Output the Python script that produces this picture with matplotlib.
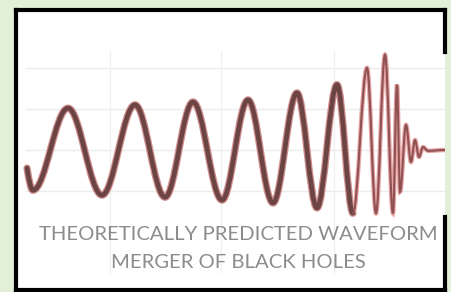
import matplotlib
matplotlib.use("Agg")
import matplotlib.pyplot as plt
from matplotlib.path import Path
from matplotlib.patches import PathPatch

# Extrema of the waveform (time in arbitrary units, strain in grid units)
t_early = [0, 6, 41, 75, 108, 138, 166, 195, 221, 246, 270, 290, 310, 326]
h_early = [-0.44, -0.98, 1.02, -1.10, 1.10, -1.15, 1.17, -1.22, 1.22, -1.29, 1.39, -1.41, 1.59, -1.54]
t_late = [326, 340, 349, 358, 366, 370, 373, 379, 384, 388, 392, 396, 401, 418]
h_late = [-1.54, 2.00, -1.54, 2.32, -1.54, 1.59, -1.02, 0.61, -0.29, 0.24, -0.17, 0.07, -0.02, 0.0]

grid_h = [-1, 0, 1, 2]
grid_t = [83, 194, 307]

title_lines = ["THEORETICALLY PREDICTED WAVEFORM", "MERGER OF BLACK HOLES"]


def smooth_path(ts, hs, k=0.363, free_start=False):
    # cubic bezier between successive extrema, flat tangents at each extremum
    verts = [(ts[0], hs[0])]
    codes = [Path.MOVETO]
    for i in range(1, len(ts)):
        dx = ts[i] - ts[i - 1]
        c1 = (ts[i - 1] + k * dx, hs[i - 1])
        if free_start and i == 1:
            c1 = (ts[0] + k * dx, hs[0] + 0.6 * (hs[1] - hs[0]))
        verts += [c1, (ts[i] - k * dx, hs[i]), (ts[i], hs[i])]
        codes += [Path.CURVE4] * 3
    return Path(verts, codes)


fig = plt.figure(figsize=(4.51, 2.92), dpi=100)
fig.patch.set_facecolor("#e3f0d8")
ax = fig.add_axes([0.0344, 0.0068, 0.9523, 0.959])
ax.set_facecolor("white")
ax.set_xlim(-11.5, 418)
ax.set_ylim(-3.41, 3.41)

# faint chart gridlines
ax.hlines(grid_h, -2, 418, color="#ececec", lw=1, zorder=0)
ax.vlines(grid_t, -3.0, 2.44, color="#f0f0f0", lw=1, zorder=0)

early = smooth_path(t_early, h_early, free_start=True)
late = smooth_path(t_late, h_late)
ax.add_patch(PathPatch(early, fill=False, edgecolor="#cf8e8e", lw=5.2, capstyle="round", zorder=2))
ax.add_patch(PathPatch(early, fill=False, edgecolor="#6c4444", lw=3.4, capstyle="round", zorder=3))
ax.add_patch(PathPatch(late, fill=False, edgecolor="#e8a4a4", lw=3.2, capstyle="round", zorder=2))
ax.add_patch(PathPatch(late, fill=False, edgecolor="#8e5252", lw=1.5, capstyle="round", zorder=3))

ax.text(211, -2.07, title_lines[0], ha="center", va="center", fontsize=14.6,
        family="Lato", color="#8c8c8c")
ax.text(211, -2.73, title_lines[1], ha="center", va="center", fontsize=14.6,
        family="Lato", color="#8c8c8c")

ax.set_xticks([])
ax.set_yticks([])
for side in ["left", "top", "bottom"]:
    ax.spines[side].set_linewidth(3)
    ax.spines[side].set_color("black")
ax.spines["right"].set_visible(False)
# right edge of the frame has a gap in the middle
ax.plot([1, 1], [1, 0.85], transform=ax.transAxes, color="black", lw=3, clip_on=False)
ax.plot([1, 1], [0.26, 0], transform=ax.transAxes, color="black", lw=3, clip_on=False)

fig.savefig("out.png", dpi=100, facecolor=fig.get_facecolor())
